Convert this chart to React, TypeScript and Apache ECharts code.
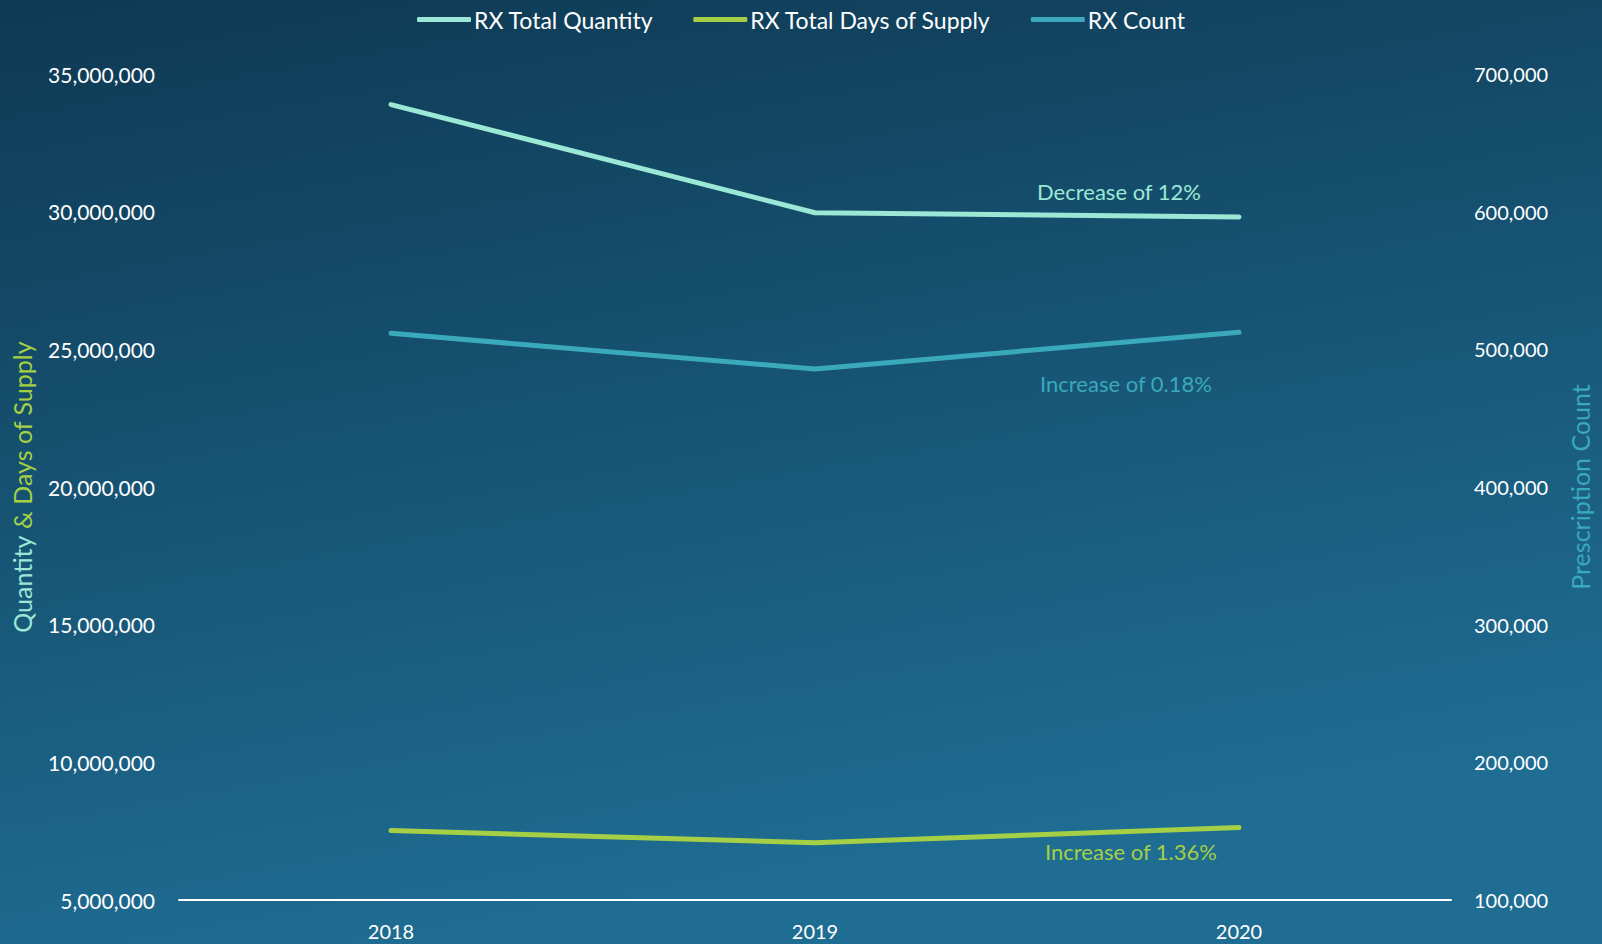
import React, { useEffect, useRef } from "react";
import * as echarts from "echarts";

const years = ["2018", "2019", "2020"];
const rxTotalQuantity = [33890000, 29960000, 29810000];
const rxTotalDaysSupply = [7520000, 7080000, 7630000];
const rxCount = [511600, 485700, 512400];
const leftTicks = { min: 5000000, max: 35000000, interval: 5000000 };
const rightTicks = { min: 100000, max: 700000, interval: 100000 };
const annotations = [
  { text: "Decrease of 12%", color: "#9ce8d6", x: 1119, y: 191 },
  { text: "Increase of 0.18%", color: "#3aa9bb", x: 1126, y: 383 },
  { text: "Increase of 1.36%", color: "#a5cf45", x: 1131, y: 851 },
];

const FONT = "Lato, 'Open Sans', sans-serif";
const C_QTY = "#9ce8d6";
const C_DAYS = "#a5cf45";
const C_CNT = "#3aa9bb";

export default function App() {
  const ref = useRef<HTMLDivElement>(null);
  useEffect(() => {
    if (!ref.current) return;
    const chart = echarts.init(ref.current, undefined, { renderer: "svg" });
    const fmt = (v: number) => v.toLocaleString("en-US");
    chart.setOption({
      animation: false,
      backgroundColor: new echarts.graphic.LinearGradient(0, 0, 0.3, 1, [
        { offset: 0, color: "#0e3953" },
        { offset: 1, color: "#1f6d93" },
      ]),
      textStyle: { fontFamily: FONT },
      legend: {
        top: 3,
        left: "center",
        itemWidth: 54,
        itemHeight: 5,
        itemGap: 40,
        icon: "roundRect",
        textStyle: { color: "#ffffff", fontSize: 23, fontFamily: FONT, padding: [0, 0, 0, -2] },
        data: ["RX Total Quantity", "RX Total Days of Supply", "RX Count"],
      },
      grid: { left: 179, right: 151, top: 74, bottom: 44, containLabel: false },
      xAxis: {
        type: "category",
        data: years,
        boundaryGap: true,
        axisLine: { lineStyle: { color: "#ffffff", width: 2 } },
        axisTick: { show: false },
        axisLabel: { color: "#ffffff", fontSize: 20, margin: 21, fontFamily: FONT },
      },
      yAxis: [
        {
          type: "value",
          min: leftTicks.min,
          max: leftTicks.max,
          interval: leftTicks.interval,
          position: "left",
          axisLine: { show: false },
          axisTick: { show: false },
          splitLine: { show: false },
          axisLabel: { color: "#ffffff", fontSize: 21, margin: 24, formatter: fmt, fontFamily: FONT },
          name: "{a|Quantity} {b|& Days of Supply}",
          nameLocation: "middle",
          nameGap: 145,
          nameRotate: 90,
          nameTextStyle: {
            fontSize: 25,
            fontFamily: FONT,
            rich: {
              a: { color: C_QTY, fontSize: 25, fontFamily: FONT },
              b: { color: C_DAYS, fontSize: 25, fontFamily: FONT },
            },
          },
        },
        {
          type: "value",
          min: rightTicks.min,
          max: rightTicks.max,
          interval: rightTicks.interval,
          position: "right",
          axisLine: { show: false },
          axisTick: { show: false },
          splitLine: { show: false },
          axisLabel: { color: "#ffffff", fontSize: 20, margin: 23, formatter: fmt, fontFamily: FONT },
          name: "Prescription Count",
          nameLocation: "middle",
          nameGap: 116,
          nameRotate: 90,
          nameTextStyle: { color: C_CNT, fontSize: 25, fontFamily: FONT },
        },
      ],
      series: [
        {
          name: "RX Total Quantity",
          type: "line",
          yAxisIndex: 0,
          data: rxTotalQuantity,
          showSymbol: false,
          symbol: "none",
          color: C_QTY,
          lineStyle: { width: 5, color: C_QTY, cap: "round", join: "round" },
        },
        {
          name: "RX Total Days of Supply",
          type: "line",
          yAxisIndex: 0,
          data: rxTotalDaysSupply,
          showSymbol: false,
          symbol: "none",
          color: C_DAYS,
          lineStyle: { width: 5, color: C_DAYS, cap: "round", join: "round" },
        },
        {
          name: "RX Count",
          type: "line",
          yAxisIndex: 1,
          data: rxCount,
          showSymbol: false,
          symbol: "none",
          color: C_CNT,
          lineStyle: { width: 5, color: C_CNT, cap: "round", join: "round" },
        },
      ],
      graphic: annotations.map((a) => ({
        type: "text",
        x: a.x,
        y: a.y,
        style: {
          text: a.text,
          fill: a.color,
          font: `22px ${FONT}`,
          textAlign: "center",
          textVerticalAlign: "middle",
        },
      })),
    });
    return () => chart.dispose();
  }, []);
  return (
    <div
      ref={ref}
      style={{ position: "fixed", left: 0, top: 0, width: 1602, height: 944 }}
    />
  );
}
